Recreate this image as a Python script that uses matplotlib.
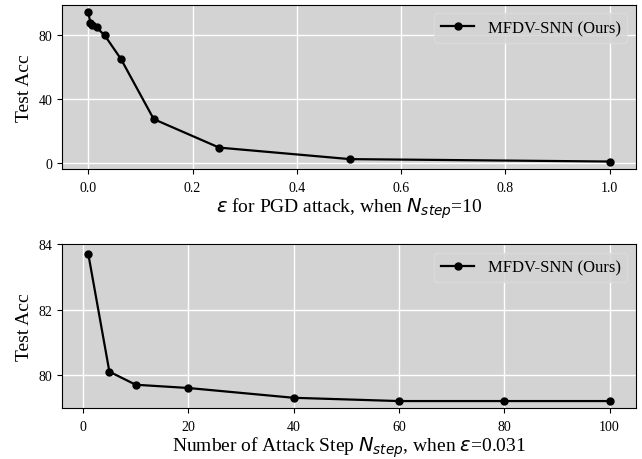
import matplotlib
matplotlib.use("Agg")
import matplotlib.pyplot as plt

# PGD strength sweep (N_step = 10)
eps = [0, 1/255, 2/255, 4/255, 8/255, 16/255, 32/255, 64/255, 128/255, 1.0]
acc_eps = [94.0, 87.3, 86.3, 84.6, 79.7, 64.8, 27.3, 9.5, 2.3, 0.8]

# attack step sweep (eps = 0.031)
steps = [1, 5, 10, 20, 40, 60, 80, 100]
acc_steps = [83.7, 80.1, 79.7, 79.6, 79.3, 79.2, 79.2, 79.2]

label = 'MFDV-SNN (Ours)'

plt.rcParams['font.family'] = ['Liberation Serif', 'DejaVu Sans']
plt.rcParams['mathtext.fontset'] = 'dejavusans'

fig, (ax1, ax2) = plt.subplots(2, 1, figsize=(6.42, 4.6), dpi=100)
fig.subplots_adjust(left=0.097, right=0.99, top=0.987, bottom=0.11, hspace=0.46)

for ax in (ax1, ax2):
    ax.set_facecolor('lightgray')
    ax.grid(True, color='white', linewidth=1.0)
    ax.set_axisbelow(True)
    ax.tick_params(labelsize=10)
    ax.tick_params(axis='x', pad=5)

ax1.plot(eps, acc_eps, '-o', color='black', linewidth=1.6, markersize=5, label=label)
ax1.set_yticks([0, 40, 80])
ax1.set_xlabel(r'$\varepsilon$ for PGD attack, when $N_{step}$=10', fontsize=14, labelpad=1)
ax1.set_ylabel('Test Acc', fontsize=14)
ax1.legend(loc='upper right', fontsize=12, facecolor='lightgray', edgecolor='#dcdcdc')

ax2.plot(steps, acc_steps, '-o', color='black', linewidth=1.6, markersize=5, label=label)
ax2.set_yticks([80, 82, 84])
ax2.set_xlabel(r'Number of Attack Step $N_{step}$, when $\varepsilon$=0.031', fontsize=14, labelpad=1)
ax2.set_ylabel('Test Acc', fontsize=14)
ax2.legend(loc='upper right', fontsize=12, facecolor='lightgray', edgecolor='#dcdcdc')

fig.savefig('out.png', dpi=100)
